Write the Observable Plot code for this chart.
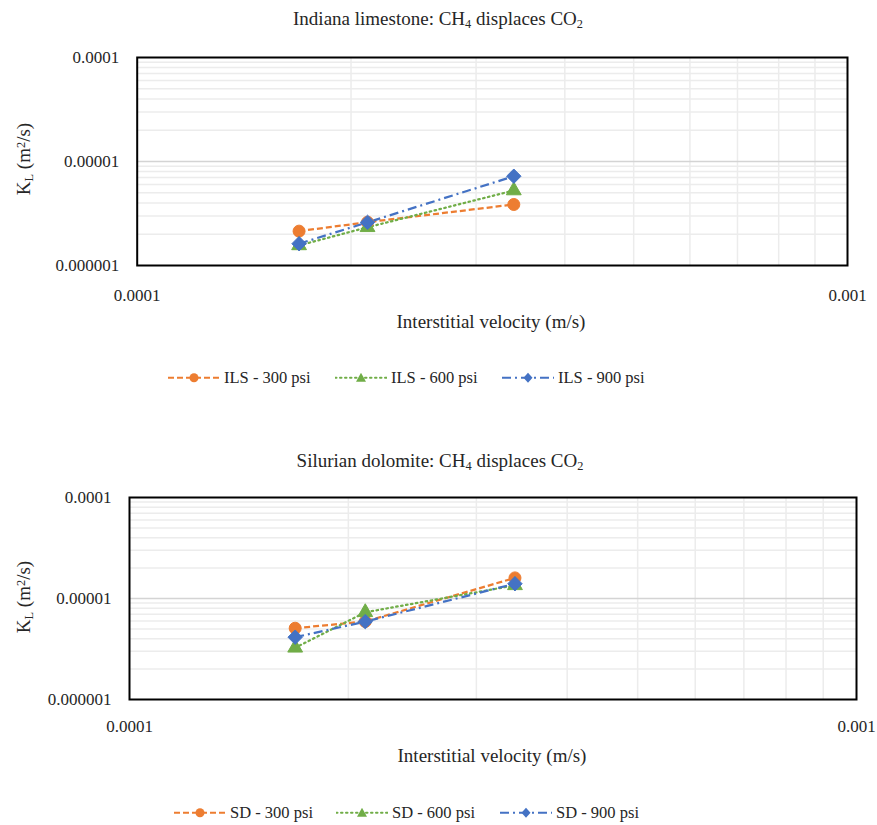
<!DOCTYPE html>
<html><head><meta charset="utf-8">
<script src="https://cdn.jsdelivr.net/npm/d3@7"></script>
<script src="https://cdn.jsdelivr.net/npm/@observablehq/plot@0.6"></script>
<style>
body{margin:0;background:#fff;font-family:"Liberation Serif","DejaVu Serif",serif;color:#262626}
#root{position:relative;width:877px;height:825px;overflow:hidden}
.abs{position:absolute;white-space:nowrap;line-height:1;font-family:"Liberation Serif",serif}
.c{transform:translate(-50%,-50%)}
.title{font-size:19px}
.xlab{font-size:19px}
.ylab{font-size:19px;transform:translate(-50%,-50%) rotate(-90deg)}
sub{font-size:0.65em;vertical-align:-0.25em}
sup{font-size:0.65em;vertical-align:0.45em}
.leg{font-size:16.5px;display:flex;align-items:center;transform:translateY(-50%)}
.leg span{font-family:"Liberation Serif",serif}
.leg svg{margin-right:4px}
svg.plot{position:absolute;left:0}
svg.plot text{font-family:"Liberation Serif",serif !important}
</style></head><body><div id="root"></div>
<script>
// ---- data ----
const velocity = [0.000169, 0.000211, 0.000339];          // interstitial velocity (m/s)
const ils300 = [2.14e-6, 2.61e-6, 3.86e-6];
const ils600 = [1.56e-6, 2.33e-6, 5.26e-6];
const ils900 = [1.62e-6, 2.60e-6, 7.22e-6];
const sd300  = [5.08e-6, 5.92e-6, 1.60e-5];
const sd600  = [3.25e-6, 7.30e-6, 1.35e-5];
const sd900  = [4.14e-6, 5.90e-6, 1.40e-5];
const ilsNames = ["ILS - 300 psi", "ILS - 600 psi", "ILS - 900 psi"];
const sdNames  = ["SD - 300 psi", "SD - 600 psi", "SD - 900 psi"];
const yTicks = [1e-6, 1e-5, 1e-4];
const yTickLabels = ["0.000001", "0.00001", "0.0001"];
const xTicks = [1e-4, 1e-3];
const xTickLabels = ["0.0001", "0.001"];

const styles = [
  {color:"#ED7D31", dash:"6,3", symbol:"circle", r:6, lcap:"butt"},
  {color:"#70AD47", dash:"1.5,3.5", symbol:"triangle", r:5.5, lcap:"round"},
  {color:"#4472C4", dash:"9,4,2,4", symbol:"diamond2", r:6.5, lcap:"butt"}
];

const root = document.getElementById("root");
function addDiv(cls, html, left, top){
  const d = document.createElement("div");
  d.className = "abs " + cls; d.innerHTML = html;
  d.style.left = left + "px"; d.style.top = top + "px";
  root.appendChild(d); return d;
}

const xMinor = d3.scaleLog().domain([1e-4, 1e-3]).ticks().filter(t => !xTicks.includes(t));
const yMinor = d3.scaleLog().domain([1e-6, 1e-4]).ticks().filter(t => !yTicks.includes(t));

function panel({seriesVals, fl, fr, ft, fb, xPad}){
  const rows = [];
  seriesVals.forEach((vals, si) => velocity.forEach((v, i) => rows.push({v, k: vals[i], s: si})));
  const mt = 12, mb = 45;
  const marks = [
    Plot.ruleX(xMinor, {stroke:"#ececec", strokeWidth:1.5}),
    Plot.ruleY(yMinor, {stroke:"#ececec", strokeWidth:1.5}),
    Plot.ruleY([1e-5], {stroke:"#d4d4d4", strokeWidth:1.5}),
    Plot.axisY({ticks: yTicks, tickFormat: d => yTickLabels[yTicks.indexOf(d)], tickSize:0, tickPadding:18, label:null, fontSize:17, fill:"#262626"}),
    Plot.axisX({ticks: xTicks, tickFormat: d => xTickLabels[xTicks.indexOf(d)], tickSize:0, tickPadding:xPad, label:null, fontSize:17, fill:"#262626"})
  ];
  styles.forEach((st, si) => {
    const d = rows.filter(r => r.s === si);
    marks.push(Plot.line(d, {x:"v", y:"k", stroke:st.color, strokeWidth:2.25, strokeDasharray:st.dash, strokeLinecap:st.lcap}));
  });
  styles.forEach((st, si) => {
    const d = rows.filter(r => r.s === si);
    marks.push(Plot.dot(d, {x:"v", y:"k", fill:st.color, stroke:st.color, strokeWidth:1, symbol:st.symbol, r:st.r}));
  });
  marks.push(Plot.frame({stroke:"#000", strokeWidth:2}));
  const svg = Plot.plot({
    width: 877, height: mt + (fb - ft) + mb,
    marginLeft: fl, marginRight: 877 - fr, marginTop: mt, marginBottom: mb,
    style: {fontFamily:"Liberation Serif", fontSize:"17px", background:"transparent", overflow:"visible"},
    x: {type:"log", domain:[1e-4, 1e-3]},
    y: {type:"log", domain:[1e-6, 1e-4]},
    marks
  });
  svg.classList.add("plot");
  svg.style.top = (ft - mt) + "px";
  root.appendChild(svg);
}

function legend(names, lefts, y){
  names.forEach((n, i) => {
    const st = styles[i];
    const w = 52;
    let marker;
    if (st.symbol === "circle") marker = `<circle cx="${w/2}" cy="8" r="4.5" fill="${st.color}"/>`;
    else if (st.symbol === "triangle") marker = `<path d="M${w/2},3 L${w/2+5},12 L${w/2-5},12 Z" fill="${st.color}"/>`;
    else marker = `<path d="M${w/2},3 L${w/2+4.5},8 L${w/2},13 L${w/2-4.5},8 Z" fill="${st.color}"/>`;
    const html = `<svg width="${w}" height="16"><line x1="0" x2="${w}" y1="8" y2="8" stroke="${st.color}" stroke-width="2" stroke-dasharray="${st.dash}" stroke-linecap="${st.lcap}"/>${marker}</svg><span>${n}</span>`;
    addDiv("leg", html, lefts[i], y);
  });
}

// ---- top panel ----
addDiv("title c", "Indiana limestone: CH<sub>4</sub> displaces CO<sub>2</sub>", 438, 20);
panel({seriesVals:[ils300, ils600, ils900], fl:136.7, fr:847, ft:57, fb:265, xPad:23});
addDiv("ylab", "K<sub>L</sub> (m<sup>2</sup>/s)", 25, 159);
addDiv("xlab c", "Interstitial velocity (m/s)", 491, 321);
legend(ilsNames, [168, 335, 502], 378);

// ---- bottom panel ----
addDiv("title c", "Silurian dolomite: CH<sub>4</sub> displaces CO<sub>2</sub>", 440, 462);
panel({seriesVals:[sd300, sd600, sd900], fl:129, fr:856, ft:497, fb:699, xPad:20});
addDiv("ylab", "K<sub>L</sub> (m<sup>2</sup>/s)", 25, 597);
addDiv("xlab c", "Interstitial velocity (m/s)", 492, 755);
legend(sdNames, [174, 336, 500], 813);
</script></body></html>
